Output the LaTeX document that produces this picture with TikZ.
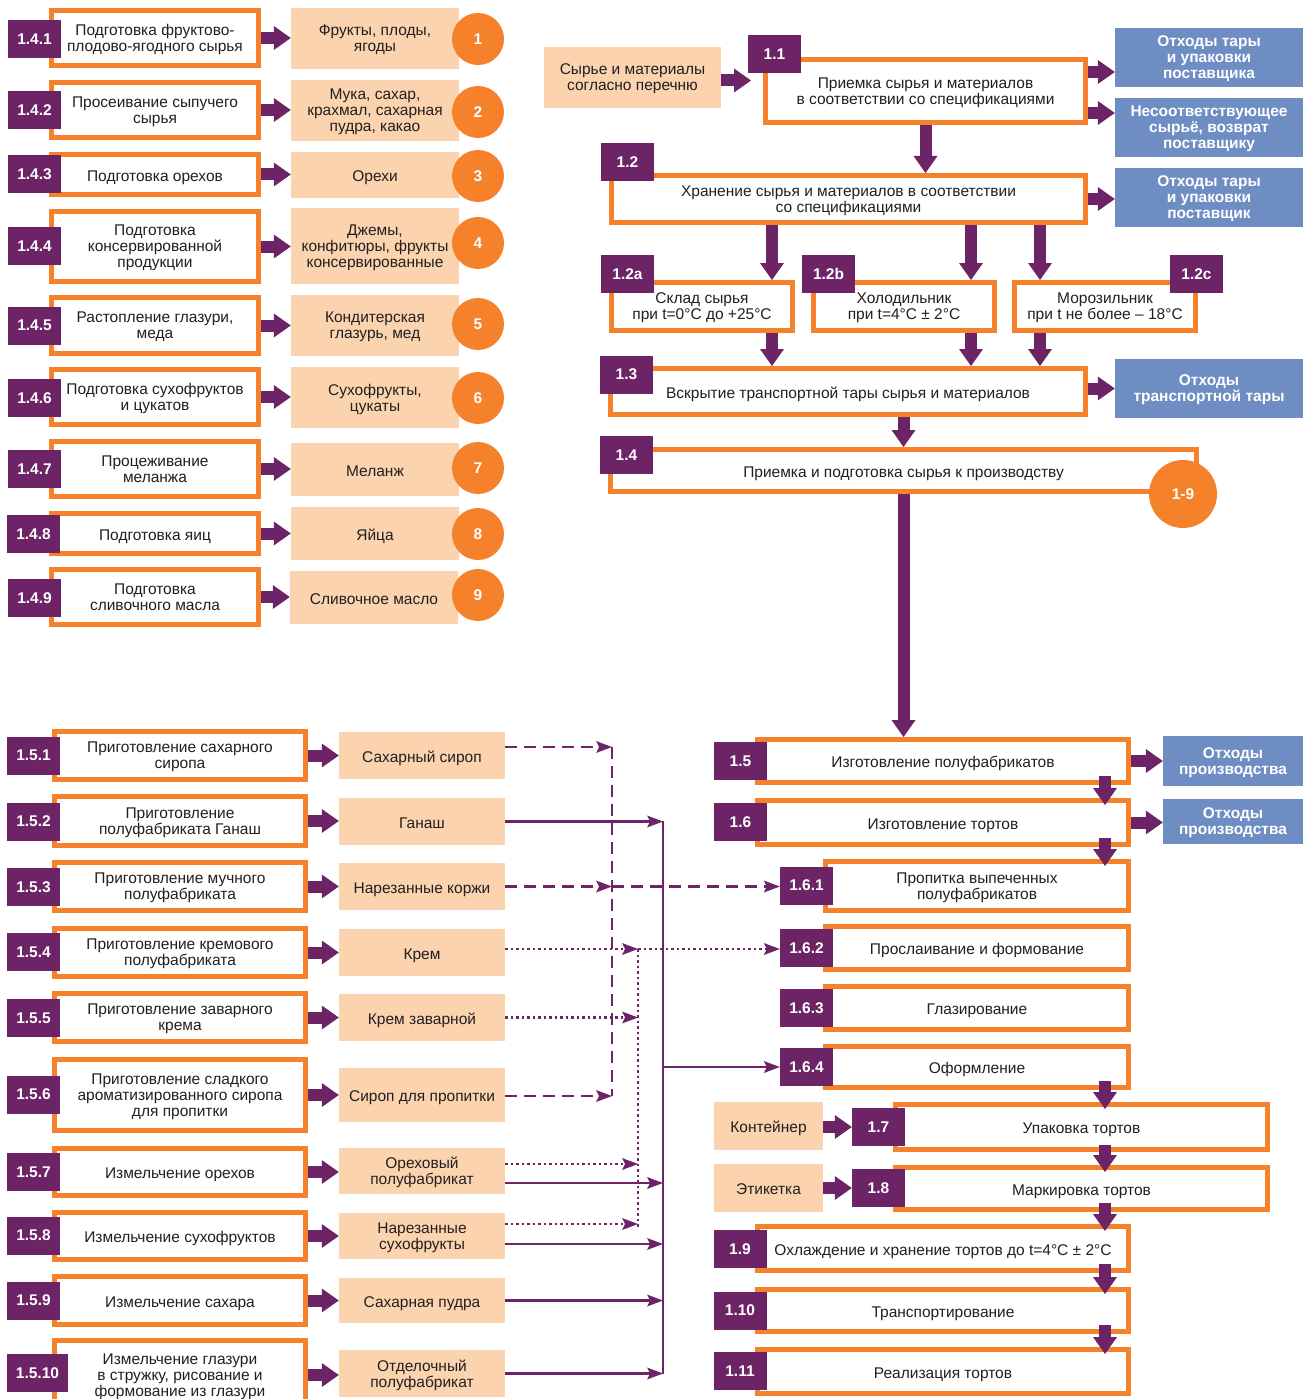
\documentclass[tikz,border=0pt]{standalone}
\usepackage{fontspec}
\setmainfont{Liberation Sans}
\usetikzlibrary{positioning, arrows.meta, calc}
\definecolor{orng}{HTML}{F5822A}
\definecolor{peach}{HTML}{FBD3AF}
\definecolor{prpl}{HTML}{6C2466}
\definecolor{wblue}{HTML}{6E8DC3}
\definecolor{ink}{HTML}{231F20}

\begin{document}
\begin{tikzpicture}[x=1pt, y=-1pt,
    every node/.style={font=\fontsize{15.5}{16}\selectfont, text=ink, align=center},
    lowtext/.style={text depth=0pt, execute at begin node={\rule{0pt}{13.5pt}}},
    proc/.style={rectangle, draw=orng, line width=5pt, fill=white, inner sep=0pt, lowtext},
    num/.style={rectangle, fill=prpl, text=white, font=\fontsize{15.5}{16}\selectfont\bfseries, minimum width=53pt, minimum height=38pt, inner sep=0pt},
    item/.style={rectangle, fill=peach, inner sep=0pt, lowtext},
    waste/.style={rectangle, fill=wblue, text=white, font=\fontsize{15.5}{16}\selectfont\bfseries, inner sep=0pt, lowtext},
    badge/.style={circle, fill=orng, text=white, font=\fontsize{15.5}{16}\selectfont\bfseries, minimum size=52pt, inner sep=0pt},
    flow/.style={draw=prpl, line width=12pt, -{Triangle[length=17pt, width=24pt, line width=0pt]}},
    feed/.style={draw=prpl, line width=2.6pt, -{Stealth[length=16pt, width=12pt, inset=3pt, line width=0pt]}},
    syrup/.style={feed, dash pattern=on 12pt off 7pt},
    cream/.style={feed, line width=2.5pt, dash pattern=on 2.5pt off 3pt},
    bus/.style={draw=prpl, line width=2.6pt}]

    \useasboundingbox (0,0) rectangle (1308,1399);
    \clip (0,0) rectangle (1308,1399);

    % Preparation of raw materials 1.4.1 - 1.4.9
    \node[proc, minimum width=207pt, minimum height=55pt] (p141) at (155,38) {Подготовка фруктово-\\плодово-ягодного сырья};
    \node[item, minimum width=168pt, minimum height=61pt] (k141) at (375,38.5) {Фрукты, плоды,\\ягоды};
    \node[num] (n141) at (34.5,39) {1.4.1};
    \node[badge] (c1) at (478,39) {1};
    \draw[flow] (p141.east) -- (p141.east -| k141.west);

    \node[proc, minimum width=207pt, minimum height=55pt] (p142) at (155,110) {Просеивание сыпучего\\сырья};
    \node[item, minimum width=168pt, minimum height=61pt] (k142) at (375,110.5) {Мука, сахар,\\крахмал, сахарная\\пудра, какао};
    \node[num] (n142) at (34.5,110) {1.4.2};
    \node[badge] (c2) at (478,112) {2};
    \draw[flow] (p142.east) -- (p142.east -| k142.west);

    \node[proc, minimum width=207pt, minimum height=40pt] (p143) at (155,174.5) {Подготовка орехов};
    \node[item, minimum width=168pt, minimum height=46pt] (k143) at (375,175) {Орехи};
    \node[num] (n143) at (34.5,174.5) {1.4.3};
    \node[badge] (c3) at (478,176) {3};
    \draw[flow] (p143.east) -- (p143.east -| k143.west);

    \node[proc, minimum width=207pt, minimum height=70pt] (p144) at (155,246.5) {Подготовка\\консервированной\\продукции};
    \node[item, minimum width=168pt, minimum height=76pt] (k144) at (375,246) {Джемы,\\конфитюры, фрукты\\консервированные};
    \node[num] (n144) at (34.5,246) {1.4.4};
    \node[badge] (c4) at (478,243) {4};
    \draw[flow] (p144.east) -- (p144.east -| k144.west);

    \node[proc, minimum width=207pt, minimum height=56pt] (p145) at (155,325.5) {Растопление глазури,\\меда};
    \node[item, minimum width=168pt, minimum height=61pt] (k145) at (375,325.5) {Кондитерская\\глазурь, мед};
    \node[num] (n145) at (34.5,325.5) {1.4.5};
    \node[badge] (c5) at (478,324) {5};
    \draw[flow] (p145.east) -- (p145.east -| k145.west);

    \node[proc, minimum width=207pt, minimum height=55pt] (p146) at (155,397) {Подготовка сухофруктов\\и цукатов};
    \node[item, minimum width=168pt, minimum height=61pt] (k146) at (375,397.5) {Сухофрукты,\\цукаты};
    \node[num] (n146) at (34.5,398) {1.4.6};
    \node[badge] (c6) at (478,398) {6};
    \draw[flow] (p146.east) -- (p146.east -| k146.west);

    \node[proc, minimum width=207pt, minimum height=55pt] (p147) at (155,469) {Процеживание\\меланжа};
    \node[item, minimum width=168pt, minimum height=53pt] (k147) at (375,469.5) {Меланж};
    \node[num] (n147) at (34.5,469) {1.4.7};
    \node[badge] (c7) at (478,468) {7};
    \draw[flow] (p147.east) -- (p147.east -| k147.west);

    \node[proc, minimum width=207pt, minimum height=40pt] (p148) at (155,533.5) {Подготовка яиц};
    \node[item, minimum width=168pt, minimum height=53pt] (k148) at (375,533.5) {Яйца};
    \node[num] (n148) at (33.5,534) {1.4.8};
    \node[badge] (c8) at (478,534) {8};
    \draw[flow] (p148.east) -- (p148.east -| k148.west);

    \node[proc, minimum width=207pt, minimum height=55pt] (p149) at (155,597) {Подготовка\\сливочного масла};
    \node[item, minimum width=168pt, minimum height=53pt] (k149) at (374,597.5) {Сливочное масло};
    \node[num] (n149) at (34.5,598) {1.4.9};
    \node[badge] (c9) at (478,595) {9};
    \draw[flow] (p149.east) -- (p149.east -| k149.west);

    % Acceptance and storage 1.1 - 1.4
    \node[item, minimum width=177pt, minimum height=61pt] (raw) at (632.5,77.5) {Сырье и материалы\\согласно перечню};
    \node[proc, minimum width=320pt, minimum height=63pt] (p11) at (925.5,91) {Приемка сырья и материалов\\в соответствии со спецификациями};
    \node[num] (n11) at (774.5,54.5) {1.1};
    \draw[flow, shorten >=12pt] ([yshift=-3pt]raw.east) -- ([yshift=-3pt]raw.east -| p11.west);

    \node[waste, minimum width=188pt, minimum height=59pt] (w1) at (1209,57.5) {Отходы тары\\и упаковки\\поставщика};
    \node[waste, minimum width=188pt, minimum height=59pt] (w2) at (1209,127.5) {Несоответствующее\\сырьё, возврат\\поставщику};
    \draw[flow] ([yshift=19pt]p11.east) -- ([yshift=19pt]p11.east -| w1.west);
    \draw[flow] ([yshift=-22pt]p11.east) -- ([yshift=-22pt]p11.east -| w2.west);

    \node[proc, minimum width=474pt, minimum height=47pt] (p12) at (848.5,199) {Хранение сырья и материалов в соответствии\\со спецификациями};
    \node[num] (n12) at (627.5,162) {1.2};
    \node[waste, minimum width=188pt, minimum height=59pt] (w3) at (1209,197.5) {Отходы тары\\и упаковки\\поставщик};
    \draw[flow] (p11.south) -- (p11.south |- p12.north);
    \draw[flow] (p12.east) -- (p12.east -| w3.west);

    % Storage places
    \coordinate (xa) at (772,0);
    \coordinate (xb) at (971,0);
    \coordinate (xc) at (1040,0);
    \node[proc, minimum width=181pt, minimum height=48pt] (p12a) at (702,306.5) {Склад сырья\\при t=0°C до +25°C};
    \node[num] (n12a) at (627.5,274) {1.2a};
    \node[proc, minimum width=181pt, minimum height=48pt] (p12b) at (904,306.5) {Холодильник\\при t=4°C ± 2°C};
    \node[num] (n12b) at (828.5,274) {1.2b};
    \node[proc, minimum width=181pt, minimum height=48pt] (p12c) at (1105,306.5) {Морозильник\\при t не более – 18°C};
    \node[num] (n12c) at (1196.5,274) {1.2c};
    \draw[flow] (p12.south -| xa) -- (p12a.north -| xa);
    \draw[flow] (p12.south -| xb) -- (p12b.north -| xb);
    \draw[flow] (p12.south -| xc) -- (p12c.north -| xc);

    \node[proc, minimum width=475pt, minimum height=46pt] (p13) at (848,391.5) {Вскрытие транспортной тары сырья и материалов};
    \node[num] (n13) at (626.5,374.5) {1.3};
    \node[waste, minimum width=188pt, minimum height=59pt] (w4) at (1209,388.5) {Отходы\\транспортной тары};
    \draw[flow] (p12a.south -| xa) -- (p13.north -| xa);
    \draw[flow] (p12b.south -| xb) -- (p13.north -| xb);
    \draw[flow] (p12c.south -| xc) -- (p13.north -| xc);
    \draw[flow] ([yshift=3pt]p13.east) -- ([yshift=3pt]p13.east -| w4.west);

    \node[proc, minimum width=586pt, minimum height=42pt] (p14) at (903.5,470.5) {Приемка и подготовка сырья к производству};
    \node[num] (n14) at (626.5,455) {1.4};
    \node[badge, minimum size=68pt] (c19) at (1183,494) {1-9};
    \draw[flow] (p13.south -| p14.north) -- (p14.north);

    % Semi-finished products and cakes 1.5 - 1.6
    \node[proc, minimum width=371pt, minimum height=43pt] (p15) at (943,761) {Изготовление полуфабрикатов};
    \node[num] (n15) at (740.5,761) {1.5};
    \node[proc, minimum width=371pt, minimum height=44pt] (p16) at (943,822.5) {Изготовление тортов};
    \node[num] (n16) at (740.5,822) {1.6};
    \node[waste, minimum width=140pt, minimum height=50pt] (w5) at (1233,761) {Отходы\\производства};
    \node[waste, minimum width=140pt, minimum height=45pt] (w6) at (1233,821.5) {Отходы\\производства};
    \draw[flow] (p14.south) -- (p14.south |- p15.north);
    \draw[flow] (p15.east) -- (p15.east -| w5.west);
    \draw[flow] (p16.east) -- (p16.east -| w6.west);

    \node[proc, minimum width=303pt, minimum height=49pt] (p161) at (977,886) {Пропитка выпеченных\\полуфабрикатов};
    \node[num] (n161) at (806.5,885.5) {1.6.1};
    \node[proc, minimum width=303pt, minimum height=43pt] (p162) at (977,948) {Прослаивание и формование};
    \node[num] (n162) at (806.5,948) {1.6.2};
    \node[proc, minimum width=303pt, minimum height=43pt] (p163) at (977,1008) {Глазирование};
    \node[num] (n163) at (806.5,1008) {1.6.3};
    \node[proc, minimum width=303pt, minimum height=41pt] (p164) at (977,1067) {Оформление};
    \node[num] (n164) at (806.5,1067) {1.6.4};

    % Packing, marking, storage 1.7 - 1.11
    \node[item, minimum width=109pt, minimum height=48pt] (cont) at (768.5,1126) {Контейнер};
    \node[proc, minimum width=372pt, minimum height=45pt] (p17) at (1081.5,1127) {Упаковка тортов};
    \node[num] (n17) at (878.5,1127) {1.7};
    \node[item, minimum width=109pt, minimum height=48pt] (etik) at (768.5,1188) {Этикетка};
    \node[proc, minimum width=372pt, minimum height=42pt] (p18) at (1081.5,1188.5) {Маркировка тортов};
    \node[num] (n18) at (878.5,1188) {1.8};
    \draw[flow] (cont.east |- n17) -- (n17.west);
    \draw[flow] (etik.east) -- (etik.east -| n18.west);

    \node[proc, minimum width=371pt, minimum height=44pt] (p19) at (943,1248.5) {Охлаждение и хранение тортов до t=4°C ± 2°C};
    \node[num] (n19) at (740,1249) {1.9};
    \node[proc, minimum width=371pt, minimum height=42pt] (p110) at (943,1310.5) {Транспортирование};
    \node[num] (n110) at (740,1310.5) {1.10};
    \node[proc, minimum width=371pt, minimum height=44pt] (p111) at (943,1371.5) {Реализация тортов};
    \node[num] (n111) at (740,1371) {1.11};

    % Arrows down the right column
    \coordinate (xr) at (1105,0);
    \draw[flow] ([yshift=9pt]p15.south -| xr) -- ([yshift=-7pt]p16.north -| xr);
    \draw[flow] ([yshift=9pt]p16.south -| xr) -- ([yshift=-7pt]p161.north -| xr);
    \draw[flow] ([yshift=9pt]p164.south -| xr) -- ([yshift=-7pt]p17.north -| xr);
    \draw[flow] ([yshift=7pt]p17.south -| xr) -- ([yshift=-7pt]p18.north -| xr);
    \draw[flow] ([yshift=9pt]p18.south -| xr) -- ([yshift=-7pt]p19.north -| xr);
    \draw[flow] ([yshift=9pt]p19.south -| xr) -- ([yshift=-7pt]p110.north -| xr);
    \draw[flow] ([yshift=9pt]p110.south -| xr) -- ([yshift=-7pt]p111.north -| xr);

    % Semi-finished products 1.5.1 - 1.5.10
    \node[proc, minimum width=251pt, minimum height=48pt] (p151) at (180,755.5) {Приготовление сахарного\\сиропа};
    \node[item, minimum width=166pt, minimum height=47pt] (k151) at (422,755.5) {Сахарный сироп};
    \node[num] (n151) at (33.5,755.5) {1.5.1};
    \draw[flow] (p151.east) -- (p151.east -| k151.west);

    \node[proc, minimum width=251pt, minimum height=49pt] (p152) at (180,821) {Приготовление\\полуфабриката Ганаш};
    \node[item, minimum width=166pt, minimum height=47pt] (k152) at (422,821.5) {Ганаш};
    \node[num] (n152) at (33.5,821.5) {1.5.2};
    \draw[flow] (p152.east) -- (p152.east -| k152.west);

    \node[proc, minimum width=251pt, minimum height=48pt] (p153) at (180,886.5) {Приготовление мучного\\полуфабриката};
    \node[item, minimum width=166pt, minimum height=47pt] (k153) at (422,886.5) {Нарезанные коржи};
    \node[num] (n153) at (33.5,887) {1.5.3};
    \draw[flow] (p153.east) -- (p153.east -| k153.west);

    \node[proc, minimum width=251pt, minimum height=48pt] (p154) at (180,952.5) {Приготовление кремового\\полуфабриката};
    \node[item, minimum width=166pt, minimum height=47pt] (k154) at (422,952.5) {Крем};
    \node[num] (n154) at (33.5,952) {1.5.4};
    \draw[flow] (p154.east) -- (p154.east -| k154.west);

    \node[proc, minimum width=251pt, minimum height=48pt] (p155) at (180,1017.5) {Приготовление заварного\\крема};
    \node[item, minimum width=166pt, minimum height=47pt] (k155) at (422,1017.5) {Крем заварной};
    \node[num] (n155) at (33.5,1018) {1.5.5};
    \draw[flow] (p155.east) -- (p155.east -| k155.west);

    \node[proc, minimum width=251pt, minimum height=71pt] (p156) at (180,1095) {Приготовление сладкого\\ароматизированного сиропа\\для пропитки};
    \node[item, minimum width=166pt, minimum height=54pt] (k156) at (422,1095) {Сироп для пропитки};
    \node[num] (n156) at (33.5,1094.5) {1.5.6};
    \draw[flow] (p156.east) -- (p156.east -| k156.west);

    \node[proc, minimum width=251pt, minimum height=47pt] (p157) at (180,1172) {Измельчение орехов};
    \node[item, minimum width=166pt, minimum height=46pt] (k157) at (422,1171) {Ореховый\\полуфабрикат};
    \node[num] (n157) at (33.5,1172) {1.5.7};
    \draw[flow] (p157.east) -- (p157.east -| k157.west);

    \node[proc, minimum width=251pt, minimum height=47pt] (p158) at (180,1236) {Измельчение сухофруктов};
    \node[item, minimum width=166pt, minimum height=46pt] (k158) at (422,1236) {Нарезанные\\сухофрукты};
    \node[num] (n158) at (33.5,1235.5) {1.5.8};
    \draw[flow] (p158.east) -- (p158.east -| k158.west);

    \node[proc, minimum width=251pt, minimum height=48pt] (p159) at (180,1300.5) {Измельчение сахара};
    \node[item, minimum width=166pt, minimum height=45pt] (k159) at (422,1300.5) {Сахарная пудра};
    \node[num] (n159) at (33.5,1300.5) {1.5.9};
    \draw[flow] (p159.east) -- (p159.east -| k159.west);

    \node[proc, minimum width=251pt, minimum height=69pt] (p1510) at (180,1375) {Измельчение глазури\\в стружку, рисование и\\формование из глазури};
    \node[item, minimum width=166pt, minimum height=47pt] (k1510) at (422,1373.5) {Отделочный\\полуфабрикат};
    \node[num, minimum width=61pt] (n1510) at (37.5,1373) {1.5.10};
    \draw[flow] (p1510.east) -- (p1510.east -| k1510.west);

    % Syrups (dashed)
    \coordinate (dtop) at (612,747);
    \coordinate (dbot) at (612,1096);
    \draw[bus, dash pattern=on 12pt off 7pt] (dtop) -- (dbot);
    \draw[syrup] (k151.east |- dtop) -- (dtop);
    \draw[syrup] (k156.east |- dbot) -- (dbot);
    \draw[syrup] (k153.east) -- (k153.east -| dtop);
    \draw[syrup] (k153.east -| dtop) -- (k153.east -| n161.west);

    % Creams and crumbs (dotted)
    \coordinate (otop) at (638,949);
    \coordinate (obot) at (638,1227);
    \draw[bus, line width=2.5pt, dash pattern=on 2.5pt off 3pt] (otop) -- (obot);
    \draw[cream] (k154.east |- otop) -- (otop);
    \draw[cream] (otop) -- (otop -| n162.west);
    \draw[cream] (k155.east) -- (k155.east -| otop);
    \draw[cream] ([yshift=7pt]k157.east) -- ([yshift=7pt]k157.east -| otop);
    \draw[cream] ([yshift=12pt]k158.east) -- ([yshift=12pt]k158.east -| otop);

    % Finishing products (solid)
    \coordinate (stop) at (663,821);
    \draw[bus] (stop) -- (k1510.east -| stop);
    \draw[feed] (k152.east) -- (k152.east -| stop);
    \draw[feed] ([yshift=-12pt]k157.east) -- ([yshift=-12pt]k157.east -| stop);
    \draw[feed] ([yshift=-8pt]k158.east) -- ([yshift=-8pt]k158.east -| stop);
    \draw[feed] (k159.east) -- (k159.east -| stop);
    \draw[feed] (k1510.east) -- (k1510.east -| stop);
    \draw[feed] (stop |- n164) -- (n164.west);
\end{tikzpicture}
\end{document}
